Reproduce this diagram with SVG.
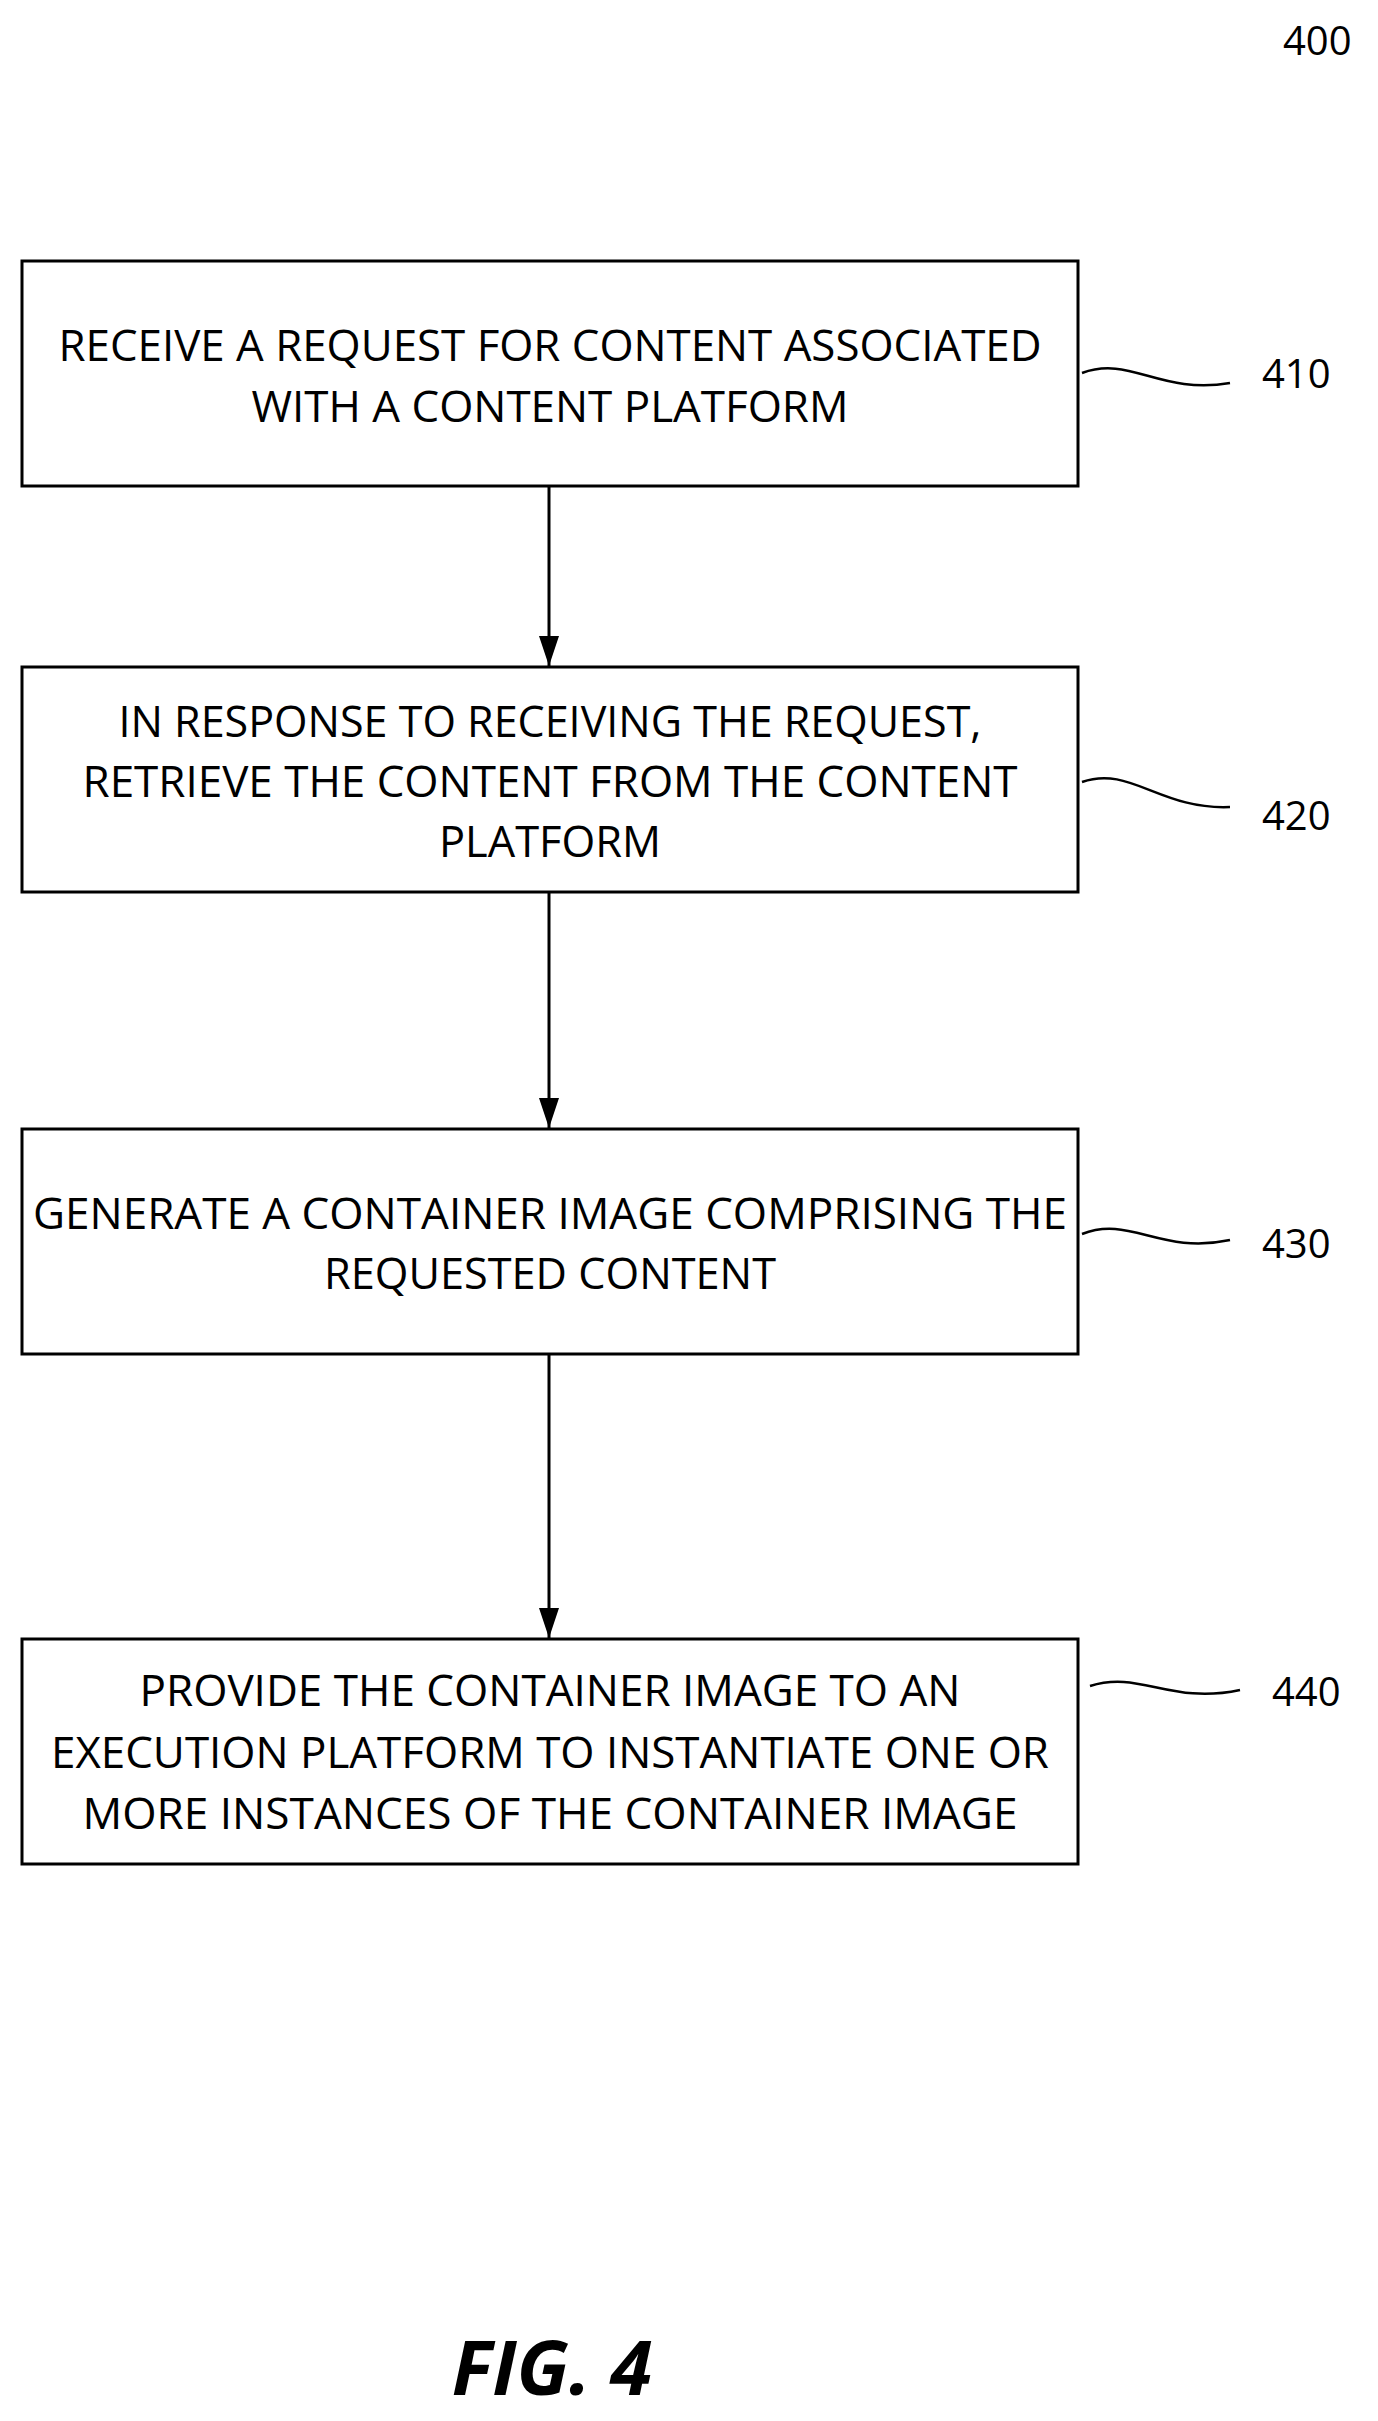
<svg xmlns="http://www.w3.org/2000/svg" width="1378" height="2421" viewBox="0 0 1378 2421">
<style>
.box{fill:#fff;stroke:#000;stroke-width:3}
.t{font-family:"Open Sans","Liberation Sans",sans-serif;font-size:43px;text-anchor:middle;fill:#000}
.lbl{font-family:"Open Sans","Liberation Sans",sans-serif;font-size:40px;fill:#000}
.sq{fill:none;stroke:#000;stroke-width:2.5}
.c{stroke:#000;stroke-width:3;fill:none}
</style>
<defs><marker id="ah" markerWidth="32" markerHeight="20" refX="30" refY="10" orient="auto" markerUnits="userSpaceOnUse" viewBox="0 0 32 20"><path d="M0,0 L30,10 L0,20 Z" fill="#000"/></marker></defs>
<rect width="1378" height="2421" fill="#fff"/>
<text class="lbl" x="1283" y="55">400</text>
<g id="n410"><rect class="box" x="22" y="261" width="1056" height="225"/>
<text class="t" x="550" y="361" textLength="983" lengthAdjust="spacingAndGlyphs">RECEIVE A REQUEST FOR CONTENT ASSOCIATED</text>
<text class="t" x="550" y="422" textLength="597" lengthAdjust="spacingAndGlyphs">WITH A CONTENT PLATFORM</text>
<path class="sq" d="M1082,373 C1130,355 1160,395 1230,383"/><text class="lbl" x="1262" y="388">410</text></g>
<g id="n420"><rect class="box" x="22" y="667" width="1056" height="225"/>
<text class="t" x="550" y="737" textLength="863" lengthAdjust="spacingAndGlyphs">IN RESPONSE TO RECEIVING THE REQUEST,</text>
<text class="t" x="550" y="797" textLength="935" lengthAdjust="spacingAndGlyphs">RETRIEVE THE CONTENT FROM THE CONTENT</text>
<text class="t" x="550" y="857" textLength="222" lengthAdjust="spacingAndGlyphs">PLATFORM</text>
<path class="sq" d="M1082,782 C1130,765 1160,810 1230,807"/><text class="lbl" x="1262" y="830">420</text></g>
<g id="n430"><rect class="box" x="22" y="1129" width="1056" height="225"/>
<text class="t" x="550" y="1229" textLength="1034" lengthAdjust="spacingAndGlyphs">GENERATE A CONTAINER IMAGE COMPRISING THE</text>
<text class="t" x="550" y="1289" textLength="452" lengthAdjust="spacingAndGlyphs">REQUESTED CONTENT</text>
<path class="sq" d="M1082,1234 C1130,1215 1160,1255 1230,1240"/><text class="lbl" x="1262" y="1258">430</text></g>
<g id="n440"><rect class="box" x="22" y="1639" width="1056" height="225"/>
<text class="t" x="550" y="1706" textLength="821" lengthAdjust="spacingAndGlyphs">PROVIDE THE CONTAINER IMAGE TO AN</text>
<text class="t" x="550" y="1768" textLength="998" lengthAdjust="spacingAndGlyphs">EXECUTION PLATFORM TO INSTANTIATE ONE OR</text>
<text class="t" x="550" y="1829" textLength="935" lengthAdjust="spacingAndGlyphs">MORE INSTANCES OF THE CONTAINER IMAGE</text>
<path class="sq" d="M1090,1686 C1140,1670 1170,1705 1240,1690"/><text class="lbl" x="1272" y="1706">440</text></g>
<g id="connectors">
<line class="c" x1="549" y1="486" x2="549" y2="666" marker-end="url(#ah)"/>
<line class="c" x1="549" y1="892" x2="549" y2="1128" marker-end="url(#ah)"/>
<line class="c" x1="549" y1="1354" x2="549" y2="1638" marker-end="url(#ah)"/>
</g>
<text x="552" y="2395" text-anchor="middle" style="font-family:'Open Sans','Liberation Sans',sans-serif;font-size:76px;font-weight:bold;font-style:italic">FIG. 4</text>
</svg>
